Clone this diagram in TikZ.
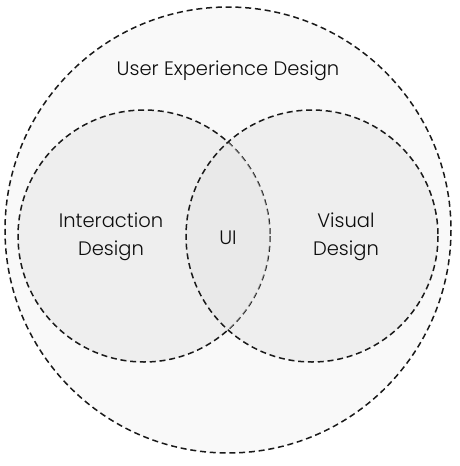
\documentclass[tikz,border=0pt]{standalone}
\usepackage{fontspec}
\setmainfont{Poppins}[UprightFont=*-Light]
\begin{document}
\begin{tikzpicture}[x=1pt,y=-1pt,
  ring/.style={draw=black!90, line width=1.5pt, dash pattern=on 6pt off 3.8pt},
  lbl/.style={font=\fontsize{19.5}{28}\selectfont, text=black!95, align=center}]
\useasboundingbox (0,0) rectangle (460,466);
\fill[white] (0,0) rectangle (460,466);
% outer circle
\path[fill=black!2.5] (228,230) circle[radius=223];
\draw[ring] (228,230) circle[radius=223];
% circle fills
\fill[black!6.5] (144,236) circle[radius=126];
\fill[black!6.5] (312,236) circle[radius=126];
% left circle stroke
\draw[ring] (144,236) circle[radius=126];
% lens fill, semi-transparent over the left stroke
\begin{scope}
  \clip (144,236) circle[radius=126];
  \fill[black!10, fill opacity=0.55] (312,236) circle[radius=126];
\end{scope}
\draw[ring] (312,236) circle[radius=126];
% labels
\node[lbl] (ux) at (228,71) {User Experience Design};
\node[lbl] (ixd) at (111,237) {Interaction\\Design};
\node[lbl] (ui) at (228,238) {UI};
\node[lbl] (vd) at (346,237) {Visual\\Design};
\end{tikzpicture}
\end{document}
